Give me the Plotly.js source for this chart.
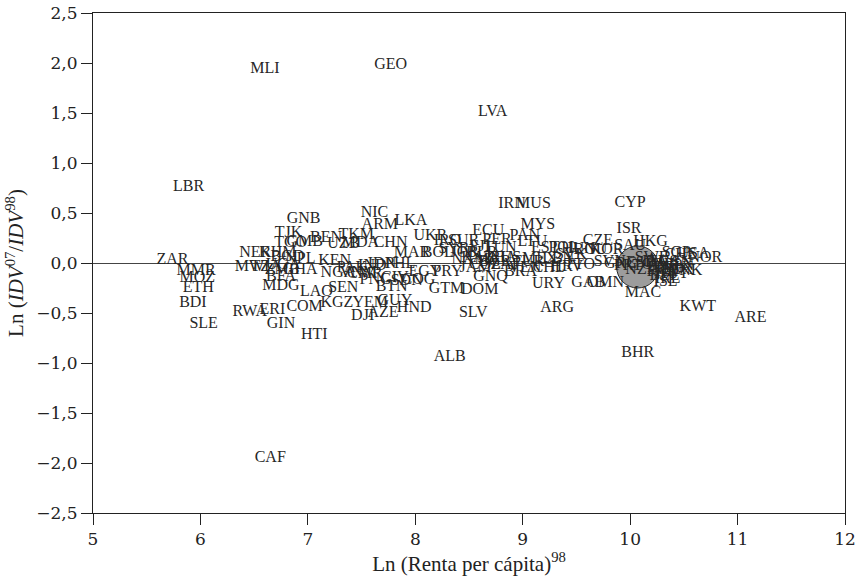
<!DOCTYPE html>
<html>
<head>
<meta charset="utf-8">
<script src="https://cdn.plot.ly/plotly-3.0.1.min.js"></script>
<style>
  html, body { margin: 0; padding: 0; background: #fff; }
  #chart { width: 858px; height: 581px; }
</style>
</head>
<body>
<div id="chart"></div>
<script>
// Country codes (ISO3) and their coordinates
const countryCodes = [
  "MLI","GEO","LVA","LBR","CYP","IRN","MUS","ISR","NIC","ARM",
  "LKA","GNB","TJK","BEN","TKM","UZB","TGO","GMB","MDA","CHN",
  "ECU","UKR","MYS","IRQ","MAR","BOL","ZAR","MMR","MOZ","ETH",
  "BDI","SLE","NER","KHM","BGD","MWI","TZA","UGA","NPL","KEN",
  "BFA","GHA","ZMB","MDG","LAO","SEN","NGA","VNM","PAK","IND",
  "CMR","RWA","ERI","GIN","COM","HTI","KGZ","YEM","DJI","GUY",
  "AZE","HND","PNG","BTN","CIV","COG","SDN","CAF","IDN","PHL",
  "GTM","DOM","PRY","EGY","SLV","ALB","GNQ","SUR","JOR","SYR",
  "FJI","PER","TUN","THA","KAZ","RUS","BRA","COL","VEN","PAN",
  "LTU","EST","POL","CZE","KOR","HUN","MEX","LBN","TUR","CHL",
  "HRV","URY","ARG","GAB","OMN","SVN","TTO","SAU","HKG","MAC",
  "KWT","ARE","BHR","NOR","USA","CHE","PRT","GRC","ESP","ITA",
  "FIN","SWE","NLD","AUT","BEL","DEU","FRA","GBR","JPN","DNK",
  "AUS","CAN","IRL","ISL","NZL","SGP","LUX","SVK","ROU","BLR",
  "ZAF","NAM","JAM","BGR"
];

// Ln (Renta per cápita) 1998
const lnRenta98 = [
  6.60, 7.77, 8.72, 5.89, 10.00, 8.90, 9.10, 9.99, 7.62, 7.67,
  7.96, 6.96, 6.82, 7.17, 7.45, 7.33, 6.84, 6.97, 7.49, 7.77,
  8.68, 8.14, 9.14, 8.30, 7.97, 8.21, 5.74, 5.96, 5.97, 5.98,
  5.93, 6.03, 6.51, 6.72, 6.81, 6.48, 6.61, 6.77, 6.93, 7.25,
  6.75, 6.93, 6.76, 6.75, 7.08, 7.33, 7.28, 7.47, 7.41, 7.60,
  7.53, 6.46, 6.67, 6.75, 6.97, 7.06, 7.27, 7.58, 7.51, 7.81,
  7.70, 7.99, 7.63, 7.78, 7.81, 8.03, 7.92, 6.65, 7.69, 7.86,
  8.29, 8.60, 8.30, 8.09, 8.54, 8.32, 8.70, 8.45, 8.46, 8.36,
  8.60, 8.76, 8.79, 8.79, 8.58, 8.84, 8.98, 8.65, 9.02, 9.02,
  9.09, 9.21, 9.38, 9.70, 9.78, 9.52, 9.16, 9.33, 9.05, 9.24,
  9.41, 9.24, 9.32, 9.61, 9.77, 9.81, 9.53, 10.00, 10.19, 10.12,
  10.63, 11.12, 10.07, 10.70, 10.59, 10.47, 9.98, 9.91, 10.09, 10.23,
  10.28, 10.20, 10.35, 10.39, 10.32, 10.37, 10.30, 10.26, 10.47, 10.51,
  10.30, 10.42, 10.35, 10.33, 10.10, 10.43, 10.44, 9.45, 9.63, 8.62,
  8.84, 8.51, 8.56, 8.74
];

// Ln (IDV 2007 / IDV 1998)
const lnIdvRatio = [
  1.94, 1.98, 1.51, 0.76, 0.60, 0.59, 0.59, 0.34, 0.50, 0.38,
  0.42, 0.44, 0.30, 0.25, 0.28, 0.19, 0.20, 0.21, 0.20, 0.20,
  0.32, 0.27, 0.38, 0.22, 0.10, 0.10, 0.03, -0.08, -0.15, -0.25,
  -0.40, -0.61, 0.10, 0.10, 0.06, -0.04, -0.04, -0.02, 0.04, 0.02,
  -0.14, -0.07, -0.07, -0.23, -0.29, -0.25, -0.10, -0.10, -0.05, -0.03,
  -0.11, -0.49, -0.47, -0.61, -0.44, -0.72, -0.40, -0.40, -0.53, -0.38,
  -0.50, -0.45, -0.17, -0.24, -0.15, -0.17, -0.18, -1.95, -0.01, -0.01,
  -0.26, -0.27, -0.09, -0.09, -0.50, -0.94, -0.14, 0.22, 0.10, 0.14,
  0.16, 0.23, 0.15, 0.05, 0.05, 0.05, -0.09, -0.02, -0.05, 0.27,
  0.21, 0.15, 0.15, 0.22, 0.13, 0.14, 0.04, 0.04, 0.01, -0.05,
  -0.04, -0.21, -0.45, -0.20, -0.20, 0.01, -0.02, 0.17, 0.21, -0.30,
  -0.44, -0.55, -0.90, 0.05, 0.09, 0.08, -0.03, -0.01, 0.00, 0.01,
  -0.05, 0.05, -0.07, -0.11, -0.13, -0.05, -0.09, -0.02, -0.03, -0.08,
  0.01, 0.01, -0.16, -0.19, -0.07, 0.10, -0.07, 0.08, 0.13, 0.10,
  -0.02, 0.03, -0.05, 0.01
];

// Highlighted aggregate marker (grey disc)
const discX = [10.07];
const discY = [-0.04];

const serif = "Liberation Serif, Times New Roman, serif";
const tickSerif = "DejaVu Serif, serif";

const traces = [
  {
    type: "scatter",
    mode: "markers",
    x: discX,
    y: discY,
    marker: { size: 42, color: "#9c9c9c", line: { color: "#2a2a2a", width: 1 } },
    hoverinfo: "skip",
    showlegend: false
  },
  {
    type: "scatter",
    mode: "text",
    x: lnRenta98,
    y: lnIdvRatio,
    text: countryCodes,
    textposition: "middle center",
    textfont: { family: serif, size: 16, color: "#262626" },
    cliponaxis: false,
    showlegend: false
  }
];

const axisCommon = {
  showgrid: false,
  showline: true,
  mirror: true,
  linecolor: "#222",
  linewidth: 1,
  ticks: "outside",
  ticklen: 11,
  tickwidth: 1,
  tickcolor: "#222",
  tickfont: { family: tickSerif, size: 17, color: "#222" }
};

const layout = {
  width: 858,
  height: 581,
  margin: { l: 93, r: 13, t: 13, b: 68 },
  paper_bgcolor: "#fff",
  plot_bgcolor: "#fff",
  separators: ",.",
  showlegend: false,
  xaxis: Object.assign({}, axisCommon, {
    range: [5, 12],
    tick0: 5,
    dtick: 1,
    tickformat: "d",
    zeroline: false,
    title: { text: "Ln (Renta per cápita)<sup>98</sup>", font: { family: serif, size: 21, color: "#222" }, standoff: 4 }
  }),
  yaxis: Object.assign({}, axisCommon, {
    range: [-2.5, 2.5],
    tick0: -2.5,
    dtick: 0.5,
    tickformat: ".1f",
    zeroline: true,
    zerolinecolor: "#444",
    zerolinewidth: 1,
    title: { text: "Ln (<i>IDV</i><sup>07</sup>/<i>IDV</i><sup>98</sup>)", font: { family: serif, size: 21, color: "#222" }, standoff: 6 }
  })
};

Plotly.newPlot("chart", traces, layout, { displayModeBar: false, staticPlot: true });
</script>
</body>
</html>
